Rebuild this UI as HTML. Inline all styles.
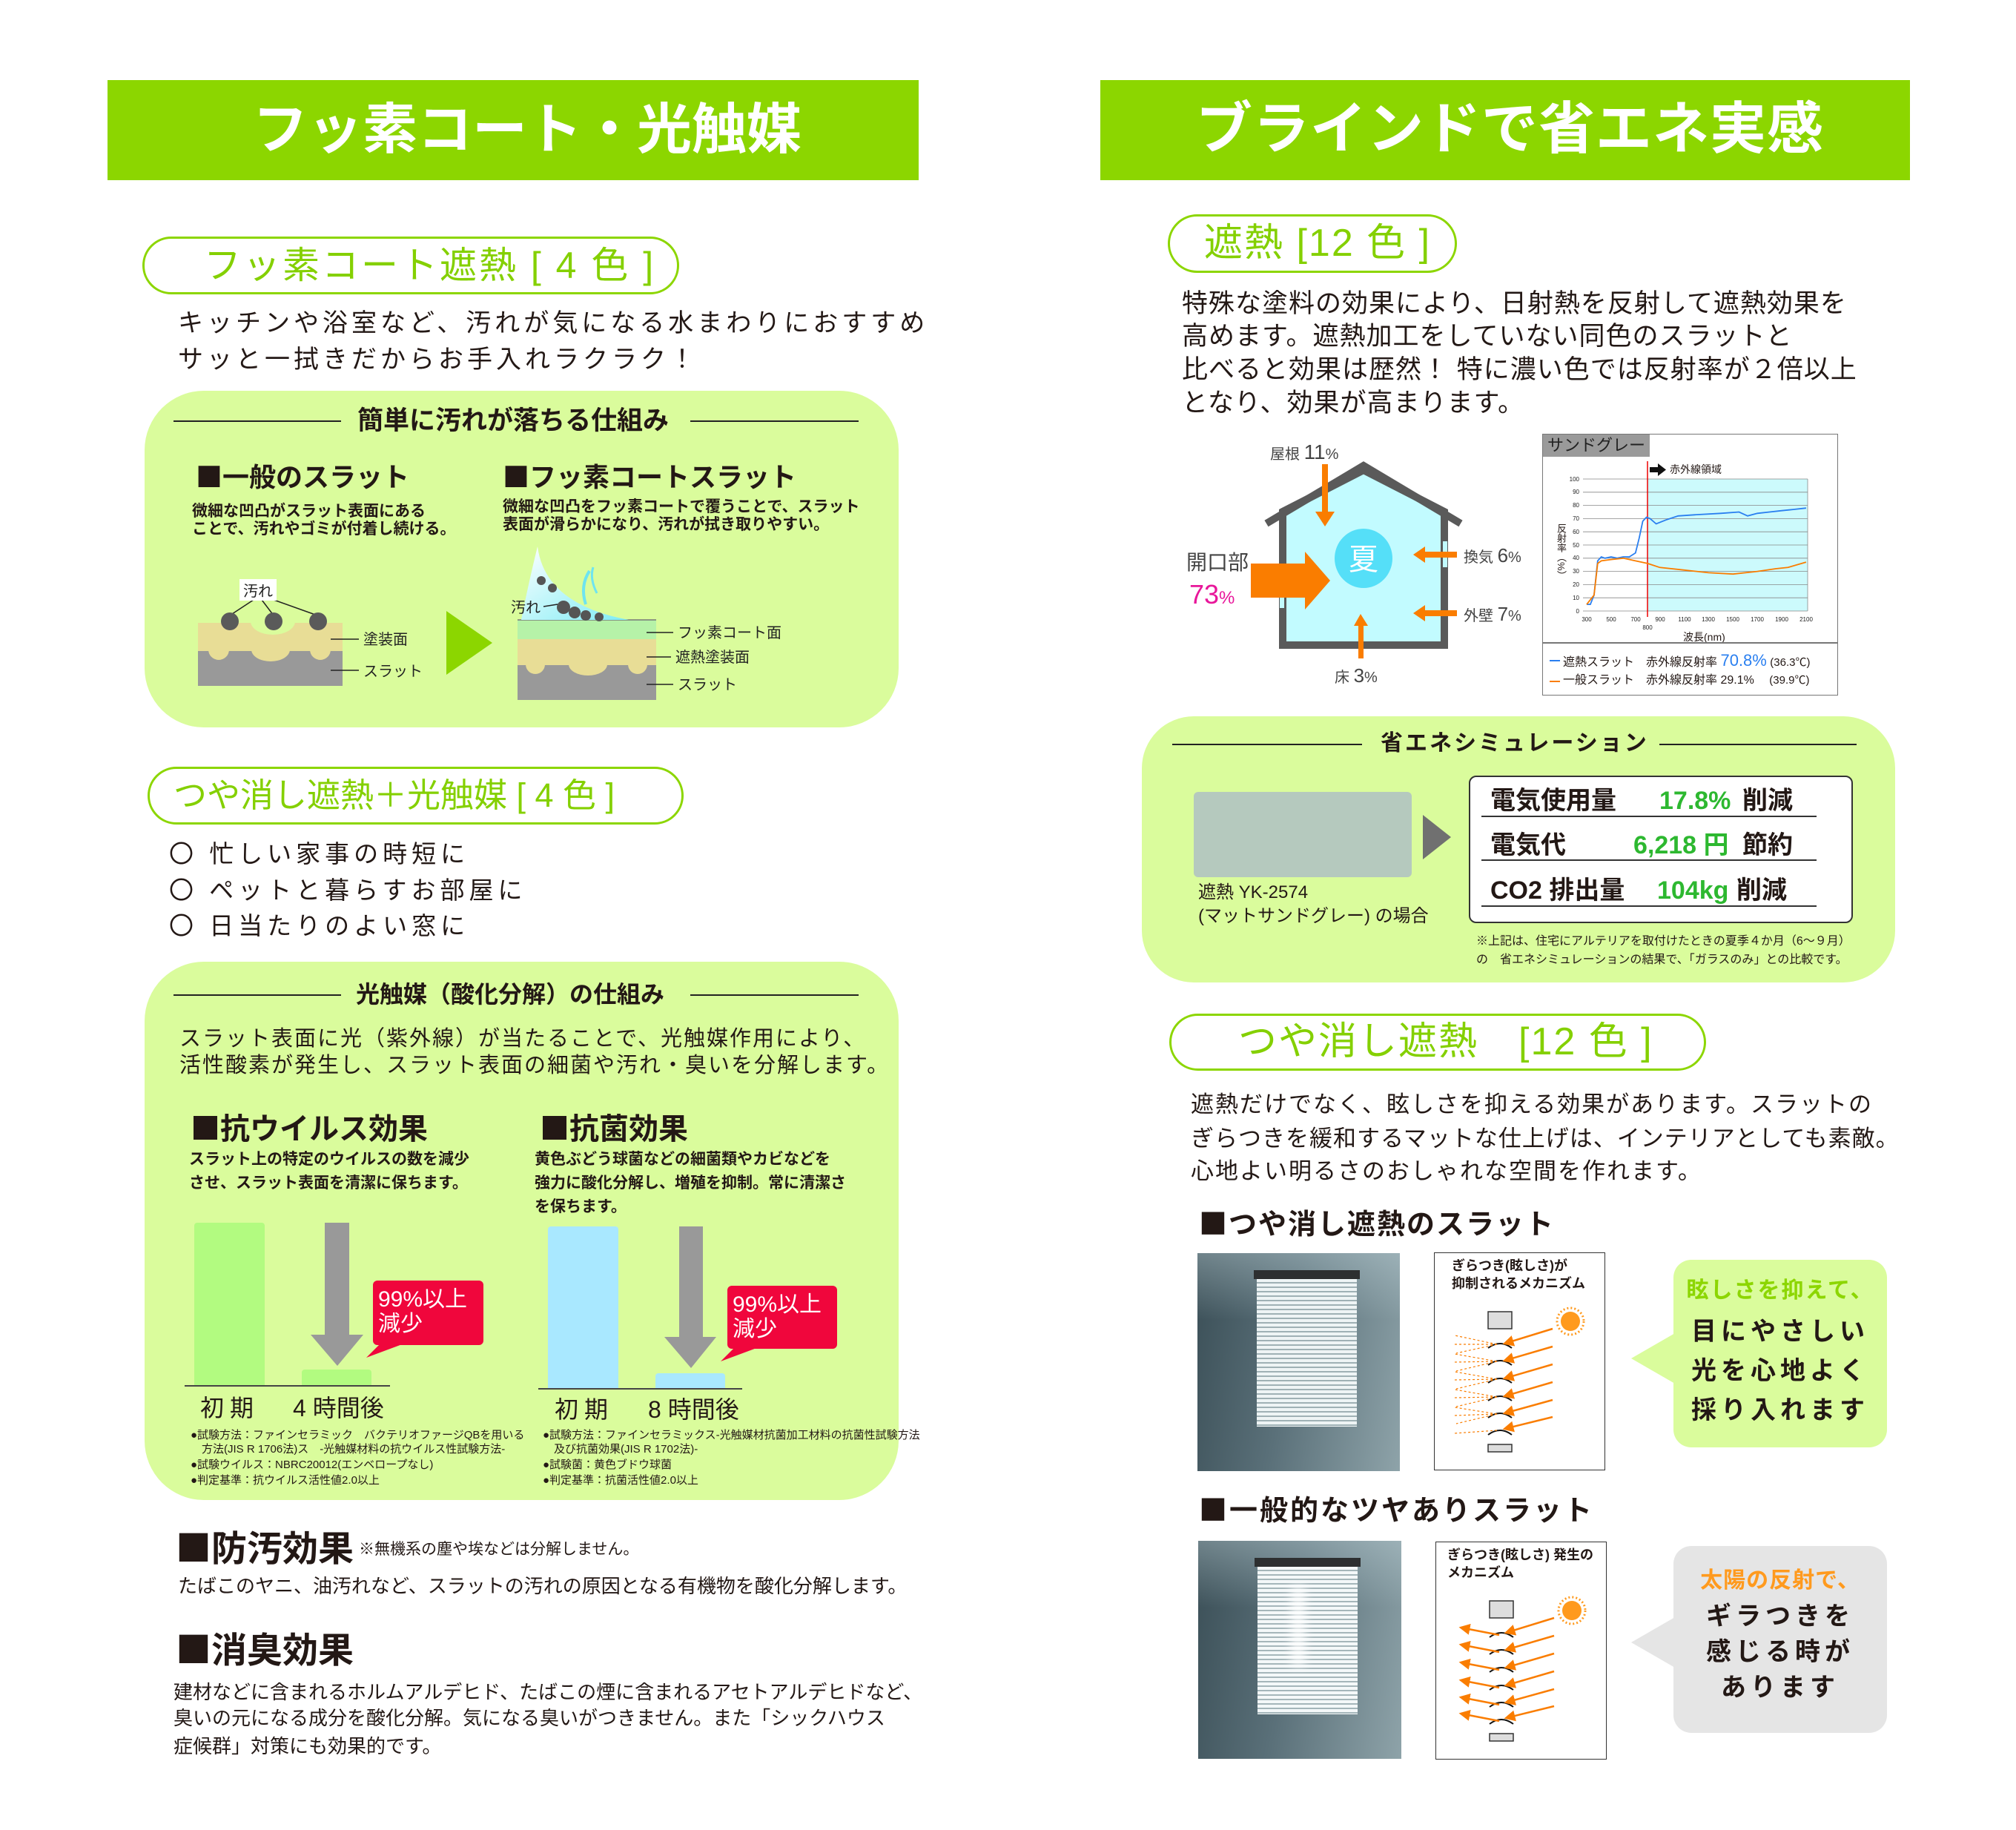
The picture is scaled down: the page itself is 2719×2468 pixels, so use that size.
<!DOCTYPE html>
<html><head><meta charset="utf-8">
<style>
*{margin:0;padding:0;box-sizing:border-box}
body{width:2719px;height:2468px;background:#fff;position:relative;overflow:hidden;font-family:"Liberation Sans","Noto Sans CJK JP",sans-serif;color:#231815}
.a{position:absolute}
.t{position:absolute;white-space:nowrap;line-height:1}
.b{font-weight:bold}
.g{color:#84d000}
.sq{font-family:"Noto Sans CJK JP",sans-serif}
.hdr{position:absolute;background:#8cd600}
.pill{position:absolute;border:3px solid #8cd600;border-radius:60px;background:#fff}
.box{position:absolute;background:#dafc9c;border-radius:80px}
svg{position:absolute;left:0;top:0}
</style></head><body>

<!-- LEFT COLUMN -->
<div class="hdr" style="left:145px;top:108px;width:1094px;height:135px"></div>
<div class="t b" style="left:341px;top:138px;font-size:74px;color:#fff">フッ素コート・光触媒</div>

<div class="pill" style="left:192px;top:319px;width:724px;height:78px"></div>
<div class="t g" style="left:275px;top:333px;font-size:50px;letter-spacing:3px">フッ素コート遮熱 [ 4 色 ]</div>
<div class="t" style="left:240px;top:419px;font-size:34px;letter-spacing:5px">キッチンや浴室など、汚れが気になる水まわりにおすすめ</div>
<div class="t" style="left:240px;top:468px;font-size:34px;letter-spacing:5px">サッと一拭きだからお手入れラクラク！</div>

<div class="box" style="left:195px;top:527px;width:1017px;height:454px"></div>
<div class="a" style="left:234px;top:567px;width:226px;height:2px;background:#222"></div>
<div class="a" style="left:931px;top:567px;width:227px;height:2px;background:#222"></div>
<div class="t b" style="left:482px;top:550px;font-size:35px">簡単に汚れが落ちる仕組み</div>
<div class="t b" style="left:264px;top:623px;font-size:36px"><span class="sq">■</span>一般のスラット</div>
<div class="t b" style="left:678px;top:623px;font-size:36px"><span class="sq">■</span>フッ素コートスラット</div>
<div class="t b" style="left:259px;top:679px;font-size:21px">微細な凹凸がスラット表面にある</div>
<div class="t b" style="left:259px;top:703px;font-size:21px">ことで、汚れやゴミが付着し続ける。</div>
<div class="t b" style="left:678px;top:673px;font-size:21px">微細な凹凸をフッ素コートで覆うことで、スラット</div>
<div class="t b" style="left:678px;top:697px;font-size:21px">表面が滑らかになり、汚れが拭き取りやすい。</div>

<div class="pill" style="left:199px;top:1034px;width:723px;height:78px"></div>
<div class="t g" style="left:234px;top:1050px;font-size:45px">つや消し遮熱＋光触媒 [ 4 色 ]</div>
<div class="t" style="left:228px;top:1135px;font-size:33px;letter-spacing:6px">〇 忙しい家事の時短に</div>
<div class="t" style="left:228px;top:1184px;font-size:33px;letter-spacing:6px">〇 ペットと暮らすお部屋に</div>
<div class="t" style="left:228px;top:1232px;font-size:33px;letter-spacing:6px">〇 日当たりのよい窓に</div>

<div class="box" style="left:195px;top:1297px;width:1017px;height:726px"></div>
<div class="a" style="left:234px;top:1341px;width:226px;height:2px;background:#222"></div>
<div class="a" style="left:931px;top:1341px;width:227px;height:2px;background:#222"></div>
<div class="t b" style="left:480px;top:1325px;font-size:32px">光触媒（酸化分解）の仕組み</div>
<div class="t" style="left:242px;top:1387px;font-size:29px;letter-spacing:2px">スラット表面に光（紫外線）が当たることで、光触媒作用により、</div>
<div class="t" style="left:242px;top:1423px;font-size:29px;letter-spacing:2px">活性酸素が発生し、スラット表面の細菌や汚れ・臭いを分解します。</div>
<div class="t b" style="left:257px;top:1499px;font-size:40px"><span class="sq">■</span>抗ウイルス効果</div>
<div class="t b" style="left:728px;top:1499px;font-size:40px"><span class="sq">■</span>抗菌効果</div>
<div class="t b" style="left:255px;top:1553px;font-size:21px">スラット上の特定のウイルスの数を減少</div>
<div class="t b" style="left:255px;top:1585px;font-size:21px">させ、スラット表面を清潔に保ちます。</div>
<div class="t b" style="left:721px;top:1553px;font-size:21px">黄色ぶどう球菌などの細菌類やカビなどを</div>
<div class="t b" style="left:721px;top:1585px;font-size:21px">強力に酸化分解し、増殖を抑制。常に清潔さ</div>
<div class="t b" style="left:721px;top:1617px;font-size:21px">を保ちます。</div>

<div class="a" style="left:262px;top:1649px;width:95px;height:220px;background:#b2fb80;border-radius:4px 4px 0 0"></div>
<div class="a" style="left:407px;top:1847px;width:94px;height:22px;background:#b2fb80;border-radius:4px 4px 0 0"></div>
<div class="a" style="left:249px;top:1868px;width:277px;height:2px;background:#444"></div>
<div class="a" style="left:739px;top:1654px;width:95px;height:219px;background:#a9e8ff;border-radius:4px 4px 0 0"></div>
<div class="a" style="left:884px;top:1852px;width:94px;height:21px;background:#a9e8ff;border-radius:4px 4px 0 0"></div>
<div class="a" style="left:726px;top:1872px;width:275px;height:2px;background:#444"></div>
<div class="a" style="left:503px;top:1727px;width:149px;height:87px;background:#f0063c;border-radius:6px"></div>
<div class="a" style="left:981px;top:1734px;width:148px;height:85px;background:#f0063c;border-radius:6px"></div>
<div class="t" style="left:510px;top:1738px;font-size:30px;color:#fff">99%以上</div>
<div class="t" style="left:510px;top:1771px;font-size:30px;color:#fff">減少</div>
<div class="t" style="left:988px;top:1745px;font-size:30px;color:#fff">99%以上</div>
<div class="t" style="left:988px;top:1778px;font-size:30px;color:#fff">減少</div>
<div class="t" style="left:270px;top:1883px;font-size:32px;letter-spacing:8px">初期</div>
<div class="t" style="left:395px;top:1883px;font-size:32px">4 時間後</div>
<div class="t" style="left:748px;top:1885px;font-size:32px;letter-spacing:8px">初期</div>
<div class="t" style="left:874px;top:1885px;font-size:32px">8 時間後</div>
<div class="t" style="left:257px;top:1928px;font-size:15px">●試験方法：ファインセラミック　バクテリオファージQBを用いる</div>
<div class="t" style="left:272px;top:1947px;font-size:15px">方法(JIS R 1706法)ス　-光触媒材料の抗ウイルス性試験方法-</div>
<div class="t" style="left:257px;top:1968px;font-size:15px">●試験ウイルス：NBRC20012(エンベロープなし)</div>
<div class="t" style="left:257px;top:1989px;font-size:15px">●判定基準：抗ウイルス活性値2.0以上</div>
<div class="t" style="left:732px;top:1928px;font-size:15px">●試験方法：ファインセラミックス-光触媒材抗菌加工材料の抗菌性試験方法</div>
<div class="t" style="left:747px;top:1947px;font-size:15px">及び抗菌効果(JIS R 1702法)-</div>
<div class="t" style="left:732px;top:1968px;font-size:15px">●試験菌：黄色ブドウ球菌</div>
<div class="t" style="left:732px;top:1989px;font-size:15px">●判定基準：抗菌活性値2.0以上</div>

<div class="t b" style="left:237px;top:2060px;font-size:48px"><span class="sq">■</span>防汚効果</div>
<div class="t" style="left:484px;top:2079px;font-size:21px">※無機系の塵や埃などは分解しません。</div>
<div class="t" style="left:240px;top:2126px;font-size:26px">たばこのヤニ、油汚れなど、スラットの汚れの原因となる有機物を酸化分解します。</div>
<div class="t b" style="left:237px;top:2197px;font-size:48px"><span class="sq">■</span>消臭効果</div>
<div class="t" style="left:234px;top:2269px;font-size:26px">建材などに含まれるホルムアルデヒド、たばこの煙に含まれるアセトアルデヒドなど、</div>
<div class="t" style="left:234px;top:2304px;font-size:26px">臭いの元になる成分を酸化分解。気になる臭いがつきません。また「シックハウス</div>
<div class="t" style="left:234px;top:2342px;font-size:26px">症候群」対策にも効果的です。</div>

<!-- RIGHT COLUMN -->
<div class="hdr" style="left:1484px;top:108px;width:1092px;height:135px"></div>
<div class="t b" style="left:1613px;top:137px;font-size:76px;color:#fff;letter-spacing:1px">ブラインドで省エネ実感</div>
<div class="pill" style="left:1575px;top:289px;width:390px;height:79px"></div>
<div class="t g" style="left:1624px;top:302px;font-size:52px;letter-spacing:2px">遮熱 [12 色 ]</div>
<div class="t" style="left:1594px;top:392px;font-size:35px;letter-spacing:1px">特殊な塗料の効果により、日射熱を反射して遮熱効果を</div>
<div class="t" style="left:1594px;top:436px;font-size:35px;letter-spacing:1px">高めます。遮熱加工をしていない同色のスラットと</div>
<div class="t" style="left:1594px;top:481px;font-size:35px;letter-spacing:1px">比べると効果は歴然！ 特に濃い色では反射率が２倍以上</div>
<div class="t" style="left:1594px;top:526px;font-size:35px;letter-spacing:1px">となり、効果が高まります。</div>

<!-- house labels -->
<div class="t" style="left:1713px;top:596px;font-size:20px;color:#444">屋根 <span style="font-size:28px">11</span>%</div>
<div class="t" style="left:1600px;top:745px;font-size:28px;color:#444">開口部</div>
<div class="t" style="left:1604px;top:784px;font-size:36px;color:#e8169a">73<span style="font-size:24px">%</span></div>
<div class="t" style="left:1974px;top:736px;font-size:20px;color:#444">換気 <span style="font-size:26px">6</span>%</div>
<div class="t" style="left:1974px;top:815px;font-size:20px;color:#444">外壁 <span style="font-size:26px">7</span>%</div>
<div class="t" style="left:1800px;top:898px;font-size:20px;color:#444">床 <span style="font-size:26px">3</span>%</div>

<!-- chart -->
<div class="a" style="left:2080px;top:585px;width:399px;height:353px;border:1.5px solid #777"></div>
<div class="a" style="left:2081px;top:586px;width:144px;height:30px;background:#9a9a9a"></div>
<div class="t" style="left:2087px;top:590px;font-size:22px;color:#222">サンドグレー</div>
<div class="t" style="left:2252px;top:626px;font-size:14px">赤外線領域</div>
<div class="t" style="left:2270px;top:852px;font-size:14px">波長(nm)</div>
<div class="t" style="left:2099px;top:706px;font-size:13px;writing-mode:vertical-rl">反射率（%）</div>
<div class="a" style="left:2081px;top:866px;width:397px;height:1.5px;background:#777"></div>
<div class="t" style="left:2108px;top:880px;font-size:16px">遮熱スラット　赤外線反射率 <span style="font-size:22px;color:#2a7ff0">70.8%</span> <span style="font-size:15px">(36.3℃)</span></div>
<div class="t" style="left:2108px;top:910px;font-size:16px">一般スラット　赤外線反射率 29.1%　 <span style="font-size:15px">(39.9℃)</span></div>

<!-- simulation -->
<div class="box" style="left:1540px;top:966px;width:1016px;height:359px;border-radius:70px"></div>
<div class="a" style="left:1581px;top:1003px;width:256px;height:2px;background:#222"></div>
<div class="a" style="left:2238px;top:1003px;width:266px;height:2px;background:#222"></div>
<div class="t b" style="left:1862px;top:988px;font-size:30px;letter-spacing:3px">省エネシミュレーション</div>
<div class="a" style="left:1610px;top:1068px;width:294px;height:115px;background:#b5c9be;border-radius:6px"></div>
<div class="t" style="left:1616px;top:1192px;font-size:24px">遮熱 YK-2574</div>
<div class="t" style="left:1616px;top:1224px;font-size:24px">(マットサンドグレー) の場合</div>
<div class="a" style="left:1981px;top:1046px;width:518px;height:199px;border:2px solid #333;border-radius:10px;background:#fff"></div>
<div class="a" style="left:1998px;top:1100px;width:452px;height:1.5px;background:#333"></div>
<div class="a" style="left:1998px;top:1159px;width:452px;height:1.5px;background:#333"></div>
<div class="a" style="left:1998px;top:1221px;width:452px;height:1.5px;background:#333"></div>
<div class="t b" style="left:2010px;top:1063px;font-size:34px">電気使用量</div>
<div class="t b" style="left:2238px;top:1063px;font-size:34px;color:#2db830">17.8%</div>
<div class="t b" style="left:2350px;top:1063px;font-size:34px">削減</div>
<div class="t b" style="left:2010px;top:1123px;font-size:34px">電気代</div>
<div class="t b" style="left:2203px;top:1123px;font-size:34px;color:#2db830">6,218 円</div>
<div class="t b" style="left:2350px;top:1123px;font-size:34px">節約</div>
<div class="t b" style="left:2010px;top:1184px;font-size:34px">CO2 排出量</div>
<div class="t b" style="left:2235px;top:1184px;font-size:34px;color:#2db830">104kg</div>
<div class="t b" style="left:2342px;top:1184px;font-size:34px">削減</div>
<div class="t" style="left:1991px;top:1262px;font-size:16px">※上記は、住宅にアルテリアを取付けたときの夏季４か月（6～９月）</div>
<div class="t" style="left:1991px;top:1287px;font-size:16px">の　省エネシミュレーションの結果で、「ガラスのみ」との比較です。</div>

<div class="pill" style="left:1577px;top:1367px;width:724px;height:77px"></div>
<div class="t g" style="left:1670px;top:1379px;font-size:52px;letter-spacing:2px">つや消し遮熱　[12 色 ]</div>
<div class="t" style="left:1606px;top:1474px;font-size:31px;letter-spacing:2px">遮熱だけでなく、眩しさを抑える効果があります。スラットの</div>
<div class="t" style="left:1606px;top:1520px;font-size:31px;letter-spacing:1px">ぎらつきを緩和するマットな仕上げは、インテリアとしても素敵。</div>
<div class="t" style="left:1606px;top:1564px;font-size:31px;letter-spacing:2px">心地よい明るさのおしゃれな空間を作れます。</div>
<div class="t b" style="left:1617px;top:1629px;font-size:38px;letter-spacing:2px"><span class="sq">■</span>つや消し遮熱のスラット</div>
<div class="t b" style="left:1617px;top:2015px;font-size:38px;letter-spacing:3px"><span class="sq">■</span>一般的なツヤありスラット</div>

<!-- photos -->
<div class="a" style="left:1615px;top:1690px;width:273px;height:294px;background:linear-gradient(100deg,#3b4f57 0%,#5a7079 45%,#8ea3a9 100%);overflow:hidden">
 <div class="a" style="left:0;top:0;width:273px;height:90px;background:linear-gradient(180deg,rgba(210,230,235,.35),rgba(0,0,0,0))"></div>
 <div class="a" style="left:76px;top:23px;width:143px;height:12px;background:#2d2f30"></div>
 <div class="a" style="left:80px;top:35px;width:135px;height:199px;background:repeating-linear-gradient(180deg,#eef4f5 0 4px,#9fb1b5 4px 6px)"></div>
</div>
<div class="a" style="left:1616px;top:2078px;width:274px;height:294px;background:linear-gradient(100deg,#3b4f57 0%,#5a7079 45%,#8ea3a9 100%);overflow:hidden">
 <div class="a" style="left:0;top:0;width:274px;height:90px;background:linear-gradient(180deg,rgba(210,230,235,.35),rgba(0,0,0,0))"></div>
 <div class="a" style="left:76px;top:23px;width:143px;height:12px;background:#2d2f30"></div>
 <div class="a" style="left:80px;top:35px;width:135px;height:199px;background:repeating-linear-gradient(180deg,#f4f8f9 0 4px,#a5b6ba 4px 6px)"></div>
 <div class="a" style="left:125px;top:60px;width:20px;height:110px;background:rgba(255,255,255,.7);filter:blur(6px)"></div>
</div>

<!-- mechanism boxes -->
<div class="a" style="left:1934px;top:1689px;width:231px;height:294px;border:1.5px solid #333;background:#fff"></div>
<div class="t b" style="left:1958px;top:1698px;font-size:18px">ぎらつき(眩しさ)が</div>
<div class="t b" style="left:1958px;top:1722px;font-size:18px">抑制されるメカニズム</div>
<div class="a" style="left:1936px;top:2079px;width:231px;height:294px;border:1.5px solid #333;background:#fff"></div>
<div class="t b" style="left:1952px;top:2088px;font-size:18px">ぎらつき(眩しさ) 発生の</div>
<div class="t b" style="left:1952px;top:2112px;font-size:18px">メカニズム</div>

<!-- callouts -->
<div class="a" style="left:2257px;top:1699px;width:288px;height:253px;background:#dafc9c;border-radius:24px"></div>
<div class="t b" style="left:2257px;width:288px;text-align:center;top:1726px;font-size:30px;color:#8cd600;letter-spacing:2px">眩しさを抑えて、</div>
<div class="t b" style="left:2257px;width:288px;text-align:center;top:1779px;font-size:34px;letter-spacing:6px">目にやさしい</div>
<div class="t b" style="left:2257px;width:288px;text-align:center;top:1832px;font-size:34px;letter-spacing:6px">光を心地よく</div>
<div class="t b" style="left:2257px;width:288px;text-align:center;top:1885px;font-size:34px;letter-spacing:6px">採り入れます</div>
<div class="a" style="left:2257px;top:2085px;width:288px;height:252px;background:#e5e5e5;border-radius:24px"></div>
<div class="t b" style="left:2257px;width:288px;text-align:center;top:2117px;font-size:30px;color:#ff9a1e;letter-spacing:1px">太陽の反射で、</div>
<div class="t b" style="left:2257px;width:288px;text-align:center;top:2163px;font-size:34px;letter-spacing:6px">ギラつきを</div>
<div class="t b" style="left:2257px;width:288px;text-align:center;top:2211px;font-size:34px;letter-spacing:6px">感じる時が</div>
<div class="t b" style="left:2257px;width:288px;text-align:center;top:2259px;font-size:34px;letter-spacing:6px">あります</div>

<svg width="2719" height="2468" viewBox="0 0 2719 2468">
<defs>
 <linearGradient id="wedge" x1="0" y1="0" x2="1" y2="1"><stop offset="0" stop-color="#fff"/><stop offset="1" stop-color="#7eecf5"/></linearGradient>
 <marker id="ah" markerWidth="6" markerHeight="6" refX="5" refY="3" orient="auto"><path d="M0,0 L6,3 L0,6 Z" fill="#fa7d00"/></marker>
</defs>
<!-- left diagram 1 -->
<rect x="267" y="840" width="195" height="40" fill="#e8dd96"/>
<rect x="267" y="878" width="195" height="47" fill="#999"/>
<circle cx="295" cy="876" r="14" fill="#e8dd96"/>
<ellipse cx="365" cy="876" rx="26" ry="16" fill="#e8dd96"/>
<circle cx="432" cy="876" r="14" fill="#e8dd96"/>
<ellipse cx="368" cy="838" rx="30" ry="18" fill="#dafc9c"/>
<rect x="320" y="822" width="96" height="17" fill="#dafc9c"/>
<line x1="348" y1="805" x2="310" y2="830" stroke="#222" stroke-width="1.5"/>
<line x1="350" y1="805" x2="369" y2="830" stroke="#222" stroke-width="1.5"/>
<line x1="358" y1="805" x2="428" y2="830" stroke="#222" stroke-width="1.5"/>
<rect x="323" y="781" width="50" height="29" fill="#fff"/>
<text x="328" y="804" font-size="20" fill="#222">汚れ</text>
<g fill="#5a5a5a"><circle cx="310" cy="838" r="12"/><circle cx="369" cy="838" r="12"/><circle cx="429" cy="838" r="12"/></g>
<line x1="446" y1="862" x2="484" y2="862" stroke="#222" stroke-width="1.5"/>
<text x="490" y="869" font-size="20" fill="#222">塗装面</text>
<line x1="446" y1="904" x2="484" y2="904" stroke="#222" stroke-width="1.5"/>
<text x="490" y="912" font-size="20" fill="#222">スラット</text>
<polygon points="602,824 664,867 602,910" fill="#8cd600"/>
<!-- right diagram -->
<rect x="698" y="836" width="187" height="26" fill="#b6f2a8"/>
<rect x="698" y="862" width="187" height="36" fill="#e8dd96"/>
<rect x="698" y="897" width="187" height="47" fill="#999"/>
<circle cx="722" cy="896" r="13" fill="#e8dd96"/><ellipse cx="793" cy="896" rx="26" ry="15" fill="#e8dd96"/><circle cx="860" cy="896" r="13" fill="#e8dd96"/>
<line x1="698" y1="836" x2="885" y2="836" stroke="#777" stroke-width="1.5"/>
<path d="M725,737 Q735,815 848,836 L703,836 Q712,790 725,737 Z" fill="url(#wedge)"/>
<g fill="#555"><circle cx="730" cy="783" r="6"/><circle cx="745" cy="793" r="6"/><circle cx="760" cy="819" r="9"/><circle cx="775" cy="826" r="8"/><circle cx="790" cy="830" r="7"/><circle cx="808" cy="832" r="6"/></g>
<path d="M790,815 Q782,790 795,770" stroke="#6ee4f0" stroke-width="4" fill="none"/>
<path d="M805,800 Q795,780 800,765" stroke="#6ee4f0" stroke-width="3" fill="none"/>
<text x="689" y="826" font-size="20" fill="#222">汚れ</text>
<line x1="733" y1="818" x2="752" y2="815" stroke="#222" stroke-width="1.5"/>
<line x1="872" y1="853" x2="908" y2="853" stroke="#222" stroke-width="1.5"/>
<text x="914" y="860" font-size="20" fill="#222">フッ素コート面</text>
<line x1="872" y1="886" x2="905" y2="886" stroke="#222" stroke-width="1.5"/>
<text x="911" y="893" font-size="20" fill="#222">遮熱塗装面</text>
<line x1="872" y1="923" x2="908" y2="923" stroke="#222" stroke-width="1.5"/>
<text x="914" y="930" font-size="20" fill="#222">スラット</text>
<!-- gray arrows & callout tails -->
<rect x="438" y="1649" width="33" height="152" fill="#999"/><polygon points="419,1800 490,1800 455,1842" fill="#999"/>
<rect x="916" y="1654" width="32" height="150" fill="#999"/><polygon points="896,1803 966,1803 932,1845" fill="#999"/>
<polygon points="520,1805 545,1812 494,1831" fill="#f0063c"/>
<polygon points="998,1810 1023,1817 972,1836" fill="#f0063c"/>
<!-- house -->
<path d="M1730,690 L1839,634 L1948,690 L1948,870 L1730,870 Z" fill="#c2fbff" stroke="#5a5a5a" stroke-width="10"/>
<polyline points="1708,706 1839,628 1970,706" fill="none" stroke="#5a5a5a" stroke-width="10"/>
<rect x="1726" y="760" width="6" height="60" fill="#c2fbff"/>
<rect x="1946" y="730" width="6" height="35" fill="#c2fbff"/>
<ellipse cx="1839" cy="753" rx="39" ry="40" fill="#55dff8"/>
<text x="1839" y="768" font-size="40" fill="#fff" text-anchor="middle">夏</text>
<g fill="#fa7d00">
<rect x="1687" y="760" width="74" height="46"/><polygon points="1760,744 1794,783 1760,822"/>
<rect x="1783" y="626" width="8" height="66"/><polygon points="1774,690 1800,690 1787,710"/>
<rect x="1920" y="744" width="45" height="8"/><polygon points="1906,748 1922,737 1922,759"/>
<rect x="1920" y="823" width="45" height="8"/><polygon points="1906,827 1922,816 1922,838"/>
<rect x="1832" y="842" width="7" height="46"/><polygon points="1835,828 1826,844 1845,844"/>
</g>
<!-- chart -->
<rect x="2222" y="646" width="216" height="178" fill="#ccfafc"/>
<g stroke="#888" stroke-width="0.8">
<line x1="2135" y1="824" x2="2438" y2="824"/><line x1="2135" y1="806.2" x2="2438" y2="806.2"/><line x1="2135" y1="788.4" x2="2438" y2="788.4"/><line x1="2135" y1="770.6" x2="2438" y2="770.6"/><line x1="2135" y1="752.8" x2="2438" y2="752.8"/><line x1="2135" y1="735" x2="2438" y2="735"/><line x1="2135" y1="717.2" x2="2438" y2="717.2"/><line x1="2135" y1="699.4" x2="2438" y2="699.4"/><line x1="2135" y1="681.6" x2="2438" y2="681.6"/><line x1="2135" y1="663.8" x2="2438" y2="663.8"/><line x1="2135" y1="646" x2="2438" y2="646"/>
<line x1="2438" y1="646" x2="2438" y2="824"/>
</g>
<g font-size="8" fill="#222" text-anchor="end">
<text x="2130" y="827">0</text><text x="2130" y="809">10</text><text x="2130" y="791">20</text><text x="2130" y="773">30</text><text x="2130" y="755">40</text><text x="2130" y="738">50</text><text x="2130" y="720">60</text><text x="2130" y="702">70</text><text x="2130" y="684">80</text><text x="2130" y="666">90</text><text x="2130" y="649">100</text>
</g>
<g font-size="8" fill="#222" text-anchor="middle">
<text x="2140" y="838">300</text><text x="2173" y="838">500</text><text x="2206" y="838">700</text><text x="2239" y="838">900</text><text x="2272" y="838">1100</text><text x="2304" y="838">1300</text><text x="2337" y="838">1500</text><text x="2370" y="838">1700</text><text x="2403" y="838">1900</text><text x="2436" y="838">2100</text><text x="2222" y="849">800</text>
</g>
<line x1="2222" y1="622" x2="2222" y2="832" stroke="#e00" stroke-width="1.5"/>
<rect x="2225" y="630" width="12" height="7" fill="#111"/><polygon points="2236,625 2247,633.5 2236,642" fill="#111"/>
<polyline fill="none" stroke="#2a7ff0" stroke-width="1.8" points="2140,815.1 2144.9,815.1 2149.9,802.6 2154.8,756.4 2159.7,751 2164.7,752.8 2172.9,751 2181.1,752.8 2189.3,751 2197.5,751 2205.8,745.7 2210.7,726.1 2215.6,702.9 2220.6,697.6 2225.5,699.4 2233.7,706.5 2246.9,701.2 2263.3,695.8 2288,694.1 2320.8,692.3 2345.5,690.5 2357,695.8 2370.2,692.3 2386.6,690.5 2403,688.7 2419.5,687 2435.9,685.2"/>
<polyline fill="none" stroke="#fa7d00" stroke-width="1.8" points="2140,815.1 2149.9,802.6 2154.8,759.9 2159.7,756.4 2172.9,754.6 2189.3,752.8 2205.8,756.4 2222.2,759.9 2238.6,765.3 2271.5,768.8 2304.4,772.4 2337.3,774.2 2370.2,770.6 2394.9,767 2411.3,765.3 2435.9,758.1"/>
<line x1="2090" y1="891" x2="2104" y2="891" stroke="#2a7ff0" stroke-width="2"/>
<line x1="2090" y1="919" x2="2104" y2="919" stroke="#fa7d00" stroke-width="2"/>
<!-- sim triangle -->
<polygon points="1919,1099 1957,1129 1919,1159" fill="#707070"/>
<!-- callout pointers -->
<polygon points="2200,1832 2259,1798 2259,1866" fill="#dafc9c"/>
<polygon points="2200,2215 2259,2181 2259,2249" fill="#e5e5e5"/>
<!-- mechanism 1 -->
<g transform="translate(1934,1689)">
 <rect x="73" y="80" width="32" height="23" fill="#ddd" stroke="#333" stroke-width="1.5"/>
 <circle cx="184" cy="93" r="13" fill="#ff9a1e"/><circle cx="184" cy="93" r="18" fill="none" stroke="#ff9a1e" stroke-width="3" stroke-dasharray="2 3"/>
 <g stroke="#111" stroke-width="2" fill="none">
 <path d="M73,129 Q89,117 105,129"/><path d="M73,152 Q89,140 105,152"/><path d="M73,176 Q89,164 105,176"/><path d="M73,200 Q89,188 105,200"/><path d="M73,223 Q89,211 105,223"/><path d="M73,246 Q89,234 105,246"/>
 </g>
 <rect x="73" y="259" width="32" height="10" fill="#ddd" stroke="#333" stroke-width="1.5"/>
 <g stroke="#fa7d00" stroke-width="2.5" marker-end="url(#ah)">
 <line x1="160" y1="103" x2="95" y2="123"/><line x1="160" y1="127" x2="95" y2="146"/><line x1="160" y1="151" x2="95" y2="170"/><line x1="160" y1="175" x2="95" y2="194"/><line x1="160" y1="199" x2="95" y2="217"/><line x1="160" y1="222" x2="95" y2="238"/>
 </g>
 <g stroke="#fa7d00" stroke-width="1.2" stroke-dasharray="3 3" fill="none">
 <path d="M85,124 L28,112 M85,124 L28,124 M85,124 L30,136"/>
 <path d="M85,147 L28,137 M85,147 L28,148 M85,147 L30,160"/>
 <path d="M85,171 L28,161 M85,171 L28,172 M85,171 L30,184"/>
 <path d="M85,195 L28,185 M85,195 L28,196 M85,195 L30,208"/>
 <path d="M85,218 L28,209 M85,218 L28,220 M85,218 L30,231"/>
 <path d="M85,240 L28,244"/>
 </g>
</g>
<!-- mechanism 2 -->
<g transform="translate(1936,2079)">
 <rect x="73" y="80" width="32" height="23" fill="#ddd" stroke="#333" stroke-width="1.5"/>
 <circle cx="184" cy="93" r="13" fill="#ff9a1e"/><circle cx="184" cy="93" r="18" fill="none" stroke="#ff9a1e" stroke-width="3" stroke-dasharray="2 3"/>
 <g stroke="#111" stroke-width="2" fill="none">
 <path d="M73,129 Q89,117 105,129"/><path d="M73,152 Q89,140 105,152"/><path d="M73,176 Q89,164 105,176"/><path d="M73,200 Q89,188 105,200"/><path d="M73,223 Q89,211 105,223"/><path d="M73,246 Q89,234 105,246"/>
 </g>
 <rect x="73" y="259" width="32" height="10" fill="#ddd" stroke="#333" stroke-width="1.5"/>
 <g stroke="#fa7d00" stroke-width="2.5" marker-end="url(#ah)">
 <line x1="160" y1="103" x2="95" y2="123"/><line x1="160" y1="127" x2="95" y2="146"/><line x1="160" y1="151" x2="95" y2="170"/><line x1="160" y1="175" x2="95" y2="194"/><line x1="160" y1="199" x2="95" y2="217"/><line x1="160" y1="222" x2="95" y2="238"/>
 <line x1="86" y1="126" x2="34" y2="116"/><line x1="86" y1="149" x2="34" y2="139"/><line x1="86" y1="173" x2="34" y2="163"/><line x1="86" y1="197" x2="34" y2="187"/><line x1="86" y1="220" x2="34" y2="210"/><line x1="86" y1="242" x2="34" y2="232"/>
 </g>
</g>
</svg>
</body></html>
